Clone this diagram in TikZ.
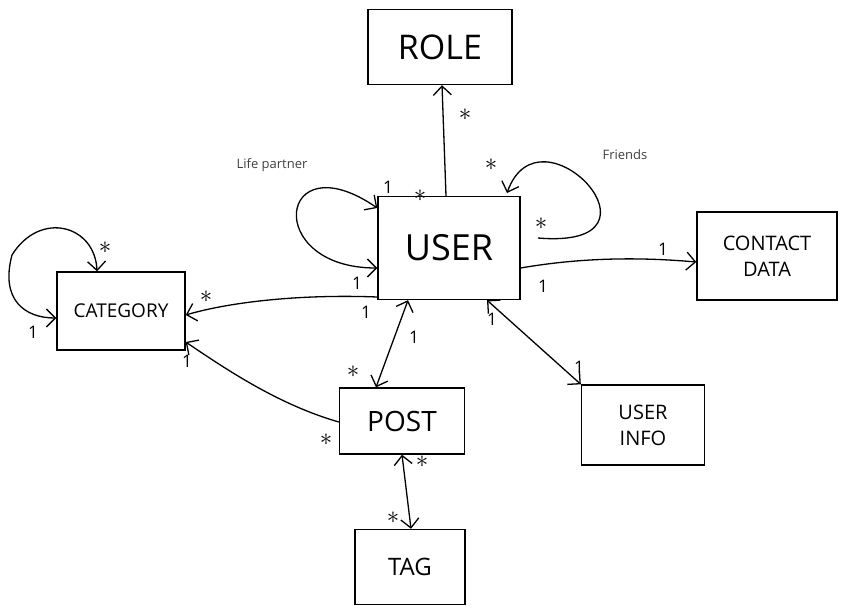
\documentclass[tikz,border=0pt]{standalone}
\usepackage{fontspec}
\setmainfont{Open Sans}
\usetikzlibrary{arrows.meta}

\begin{document}
\begin{tikzpicture}[x=1pt,y=1pt,yscale=-1,xscale=1,
    entity/.style={draw, line width=1.4pt, inner sep=0pt, align=center},
    rel/.style={line width=1.3pt, -{Straight Barb[length=9pt,width=18pt,line width=1.3pt]}},
    both/.style={line width=1.3pt, {Straight Barb[length=9pt,width=18pt,line width=1.3pt]}-{Straight Barb[length=9pt,width=18pt,line width=1.3pt]}},
    mult/.style={inner sep=0.5pt, font=\LARGE},
    many/.style={inner sep=0.5pt, font=\Huge},
    note/.style={inner sep=0.5pt, font=\fontsize{13}{15}\selectfont, text=black!75}]
		% Fix the page to the size of the reference
		\useasboundingbox (0,0) rectangle (842,613);

		% The entity boxes
		\node[entity, minimum width=144, minimum height=75, font=\fontsize{34}{36}\selectfont] (role) at (440,47) {ROLE};
		\node[entity, minimum width=142, minimum height=103, font=\fontsize{36}{38}\selectfont] (user) at (449,248) {USER};
		\node[entity, minimum width=128, minimum height=78, font=\fontsize{19}{21}\selectfont] (category) at (121,311) {CATEGORY};
		\node[entity, minimum width=140, minimum height=88, font=\fontsize{20}{26}\selectfont] (contact) at (767,256) {CONTACT\\DATA};
		\node[entity, minimum width=125, minimum height=66, font=\fontsize{28}{30}\selectfont] (post) at (402,421) {POST};
		\node[entity, minimum width=123, minimum height=80, font=\fontsize{20}{26}\selectfont] (userinfo) at (643,425) {USER\\INFO};
		\node[entity, minimum width=110, minimum height=75, font=\fontsize{24}{26}\selectfont] (tag) at (410,567) {TAG};

		% Names of the two self relations
		\node[note] (lifepartner) at (272,165) {Life partner};
		\node[note] (friends) at (625,155) {Friends};

		% User -> Role
		\draw[rel] (user.north -| 446,0) -- (role.south -| 442,0);
		\node[many] (roleA) at (465,115) {$\ast$};
		\node[many] (roleB) at (420,196) {$\ast$};

		% Life partner loop on User
		\draw[both] (user.west |- 0,268) .. controls (262,268) and (278,140) .. (user.west |- 0,208);
		\node[mult] (lifeA) at (388,187) {1};
		\node[mult] (lifeB) at (357,283) {1};

		% Friends loop on User
		\draw[rel] (538,238) .. controls (680,250) and (540,100) .. (507,193);
		\node[many] (friendA) at (491,165) {$\ast$};
		\node[many] (friendB) at (541,224) {$\ast$};

		% User -> Contact data
		\draw[rel] (user.east |- 0,268) .. controls (590,256) and (650,258) .. (contact.west |- 0,262);
		\node[mult] (contactA) at (663,249) {1};
		\node[mult] (contactB) at (543,286) {1};

		% User -> Category
		\draw[rel] (user.west |- 0,297) .. controls (300,294) and (230,302) .. (category.east |- 0,315);
		\node[many] (catA) at (206,297) {$\ast$};
		\node[mult] (catB) at (366,312) {1};

		% Category loop
		\draw[both] (category.north -| 97,0) .. controls (95,225) and (40,210) .. (12,255) .. controls (0,300) and (25,318) .. (category.west |- 0,318);
		\node[many] (catloopA) at (105,248) {$\ast$};
		\node[mult] (catloopB) at (33,332) {1};

		% Post -> Category
		\draw[rel] (post.west |- 0,422) .. controls (280,405) and (230,372) .. (category.east |- 0,342);
		\node[mult] (postcatA) at (187,361) {1};
		\node[many] (postcatB) at (326,440) {$\ast$};

		% User <-> Post
		\draw[both] (user.south -| 408,0) -- (post.north -| 376,0);
		\node[mult] (userpostA) at (414,337) {1};
		\node[many] (userpostB) at (353,372) {$\ast$};

		% User <-> User info
		\draw[both] (user.south -| 487,0) -- (userinfo.north west);
		\node[mult] (infoA) at (492,319) {1};
		\node[mult] (infoB) at (579,367) {1};

		% Post <-> Tag
		\draw[both] (post.south -| 402,0) -- (tag.north -| 411,0);
		\node[many] (tagA) at (422,462) {$\ast$};
		\node[many] (tagB) at (393,518) {$\ast$};
\end{tikzpicture}
\end{document}
